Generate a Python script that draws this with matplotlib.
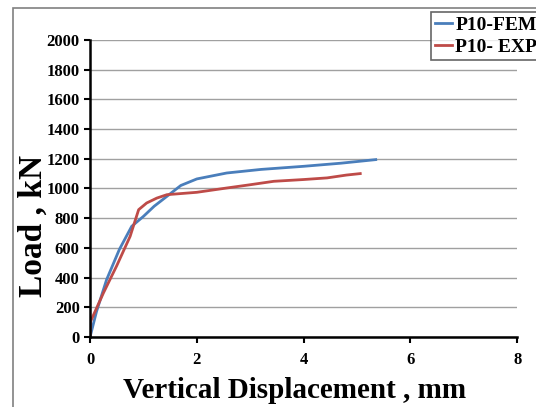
import matplotlib
matplotlib.use("Agg")
import matplotlib.pyplot as plt
from matplotlib.patches import Rectangle

# Load-displacement data
fem_disp = [0, 0.12, 0.31, 0.55, 0.78, 1.0, 1.2, 1.44, 1.7, 2.0, 2.56, 3.2, 4.0, 4.7, 5.35]
fem_load = [0, 170, 386, 590, 745, 812, 880, 947, 1020, 1064, 1104, 1128, 1149, 1170, 1194]
exp_disp = [0, 0.01, 0.25, 0.5, 0.75, 0.91, 1.06, 1.25, 1.44, 2.0, 2.56, 3.0, 3.44, 4.0, 4.44, 4.8, 5.06]
exp_load = [0, 105, 296, 480, 677, 857, 902, 935, 958, 974, 1003, 1025, 1048, 1060, 1071, 1090, 1100]

plt.rcParams['font.family'] = ['Liberation Serif', 'DejaVu Serif']
plt.rcParams['font.weight'] = 'bold'

fig = plt.figure(figsize=(5.36, 4.07), dpi=100)
ax = fig.add_axes([0.168, 0.172, 0.797, 0.73])

ax.plot(fem_disp, fem_load, color='#4a7ebb', lw=2, label='P10-FEM')
ax.plot(exp_disp, exp_load, color='#be4b48', lw=2, label='P10- EXP')

ax.set_xlim(0, 8)
ax.set_ylim(0, 2000)
ax.set_xticks(range(0, 9, 2))
ax.set_yticks(range(0, 2001, 200))
ax.grid(axis='y', color='#a0a0a0', lw=1)
ax.set_axisbelow(True)
for s in ['top', 'right']:
    ax.spines[s].set_visible(False)
ax.spines['left'].set_linewidth(1.8)
ax.spines['bottom'].set_linewidth(1.8)
ax.tick_params(labelsize=12, width=1.5, length=4, direction='out')
ax.tick_params(axis='x', pad=7)
for lbl in ax.get_xticklabels() + ax.get_yticklabels():
    lbl.set_fontweight('bold')

ax.set_xlabel('Vertical Displacement , mm', fontsize=21, fontweight='bold')
ax.set_ylabel('Load , kN', fontsize=24, fontweight='bold')
ax.xaxis.set_label_coords((294 - 90) / 427, (337 - 390) / 297)
ax.xaxis.label.set_va('center')
ax.yaxis.set_label_coords((33 - 90) / 427, (337 - 226) / 297)
ax.yaxis.label.set_va('center')

# gray frame around the chart area
fig.patches.append(Rectangle((13 / 536, -0.01), 1.0, 1 - 8 / 407 + 0.01,
                             transform=fig.transFigure, fill=False,
                             edgecolor='#808080', lw=1.2))

leg = fig.legend(loc='upper left', bbox_to_anchor=(431 / 536, 1 - 12 / 407),
                 prop={'weight': 'bold', 'size': 14}, frameon=True, fancybox=False,
                 handlelength=0.9, handletextpad=0.15, borderpad=0.2,
                 labelspacing=0.25, borderaxespad=0)
leg.get_frame().set_edgecolor('#404040')
leg.get_frame().set_linewidth(1.2)

fig.savefig('out.png', dpi=100)
